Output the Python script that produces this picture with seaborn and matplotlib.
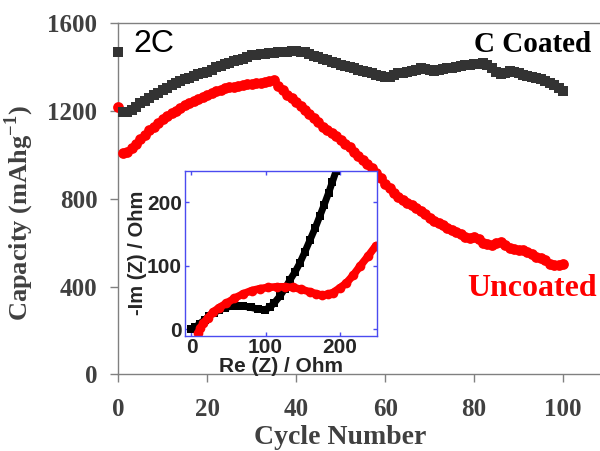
import pandas as pd
import matplotlib
matplotlib.use('Agg')
import matplotlib.pyplot as plt
import seaborn as sns

# capacity vs cycle
cycles = list(range(101))
coated = [1468, 1197, 1195, 1205, 1220, 1235, 1248, 1260, 1272, 1284,
          1295, 1307, 1318, 1328, 1337, 1345, 1353, 1361, 1368, 1374,
          1380, 1390, 1400, 1407, 1414, 1420, 1427, 1434, 1440, 1448,
          1455, 1458, 1460, 1462, 1464, 1466, 1468, 1470, 1472, 1473,
          1474, 1472, 1468, 1460, 1452, 1445, 1440, 1432, 1425, 1418,
          1412, 1405, 1400, 1395, 1390, 1385, 1380, 1372, 1365, 1360,
          1355, 1358, 1365, 1372, 1376, 1380, 1385, 1390, 1395, 1392,
          1388, 1385, 1390, 1393, 1396, 1398, 1402, 1406, 1410, 1412,
          1414, 1416, 1418, 1410, 1395, 1380, 1370, 1375, 1382, 1378,
          1372, 1366, 1362, 1358, 1352, 1345, 1338, 1330, 1318, 1305,
          1292]
uncoated = [1220, 1010, 1015, 1030, 1050, 1072, 1092, 1112, 1130, 1148,
            1163, 1177, 1190, 1203, 1215, 1226, 1237, 1247, 1257, 1266,
            1275, 1283, 1292, 1298, 1304, 1308, 1312, 1316, 1320, 1323,
            1326, 1328, 1330, 1332, 1336, 1340, 1315, 1295, 1275, 1258,
            1240, 1225, 1205, 1188, 1170, 1150, 1130, 1115, 1100, 1085,
            1070, 1052, 1035, 1015, 995, 978, 960, 940, 920, 895,
            870, 848, 828, 810, 795, 782, 770, 758, 745, 732,
            715, 700, 690, 680, 668, 660, 650, 638, 626, 620,
            625, 615, 600, 595, 592, 598, 603, 590, 578, 572,
            568, 565, 560, 548, 535, 530, 520, 505, 497, 500,
            505]

# impedance inset
eis_coated_re = [0, 5, 11, 18, 24, 30, 37, 45, 52, 60, 70, 80, 90, 99, 106,
                 112, 119, 126, 133, 140, 146, 153, 160, 167, 173, 179, 185, 190, 195]
eis_coated_im = [0, 3, 9, 15, 21, 26, 30, 34, 36, 37, 36.5, 34.5, 32, 30.5, 35,
                 42, 52, 64, 78, 91, 104, 122, 141, 160, 178, 196, 215, 232, 249]
eis_uncoated_re = [9, 12, 16, 22, 29, 37, 47, 58, 70, 81, 92, 103, 115, 126,
                   137, 148, 160, 168, 176, 184, 191, 200, 209, 218, 227, 238, 249]
eis_uncoated_im = [-6, 2, 9.5, 18, 27, 34, 41, 49, 56, 61, 64, 66, 67, 67,
                   66, 63, 59, 56, 54, 55, 58, 65, 73, 85, 99, 115, 132]

x_ticks = [0, 20, 40, 60, 80, 100]
y_ticks = [0, 400, 800, 1200, 1600]
inset_ticks = [0, 100, 200]

sns.set_style('white')
plt.rcParams['font.family'] = ['Liberation Serif', 'DejaVu Serif']
plt.rcParams['mathtext.fontset'] = 'custom'
plt.rcParams['mathtext.rm'] = 'Liberation Serif:bold'
plt.rcParams['mathtext.bf'] = 'Liberation Serif:bold'

grey = '#404040'
sans = ['Liberation Sans', 'DejaVu Sans']
fig = plt.figure(figsize=(6, 4.51), dpi=100)
ax = fig.add_axes([0.197, 0.170, 0.803, 0.778])

df = pd.DataFrame({'cycle': cycles, 'coated': coated, 'uncoated': uncoated})
sns.scatterplot(data=df, x='cycle', y='uncoated', marker='o', s=60, color='#ff0000',
                linewidth=0, clip_on=False, ax=ax, zorder=3)
sns.scatterplot(data=df, x='cycle', y='coated', marker='s', s=46, color='#333333',
                linewidth=0, clip_on=False, ax=ax, zorder=4)

ax.set_xlim(0, 108.3)
ax.set_ylim(0, 1600)
ax.set_xticks(x_ticks)
ax.set_yticks(y_ticks)
for s in ['left', 'top', 'bottom']:
    ax.spines[s].set_color('#808080')
    ax.spines[s].set_linewidth(1.0)
ax.spines['right'].set_visible(False)
ax.tick_params(axis='both', direction='out', length=6, width=1, color='#808080',
               labelsize=18, labelcolor=grey, left=True, bottom=True)
ax.tick_params(axis='y', pad=9)
ax.tick_params(axis='x', pad=11)
for lab in ax.get_xticklabels() + ax.get_yticklabels():
    lab.set_fontweight('bold')
ax.set_xlabel('Cycle Number', fontsize=20, fontweight='bold', color=grey)
ax.set_ylabel(r'Capacity (mAhg$^{-1}$)', fontsize=19, fontweight='bold', color=grey)
ax.xaxis.set_label_coords(50 / 108.3, -0.143)
ax.yaxis.set_label_coords(-0.17, 0.46)

ax.text(3.3, 1505, '2C', fontsize=23, family=sans,
        va='center', ha='left', color='black')
ax.text(106.3, 1505, 'C Coated', fontsize=21, fontweight='bold', va='center',
        ha='right', color='black')
ax.text(107.6, 392, 'Uncoated', fontsize=23, fontweight='bold', va='center',
        ha='right', color='#ff0000', clip_on=False)

# inset
ins = fig.add_axes([0.308, 0.2557, 0.320, 0.366])
sns.lineplot(x=eis_coated_re, y=eis_coated_im, sort=False, color='black', linewidth=5,
             marker='s', markersize=6, markeredgewidth=0, ax=ins)
sns.lineplot(x=eis_uncoated_re, y=eis_uncoated_im, sort=False, color='#ff0000', linewidth=5.5,
             marker='o', markersize=7, markeredgewidth=0, ax=ins)
ins.set_xlim(-9, 250)
ins.set_ylim(-10, 250)
ins.set_xticks(inset_ticks)
ins.set_yticks(inset_ticks)
for s in ins.spines.values():
    s.set_color('#4b4bf0')
    s.set_linewidth(1.0)
ins.tick_params(axis='both', direction='in', length=3, width=1, color='#4b4bf0',
                top=True, right=True, left=True, bottom=True, labelsize=15, pad=2)
for lab in ins.get_xticklabels() + ins.get_yticklabels():
    lab.set_fontweight('bold')
    lab.set_family(sans)
ins.set_xlabel('Re (Z) / Ohm', fontsize=15, fontweight='bold', family=sans, labelpad=0)
ins.set_ylabel('-Im (Z) / Ohm', fontsize=14.5, fontweight='bold', family=sans, labelpad=0)

fig.savefig('out.png', dpi=100)
